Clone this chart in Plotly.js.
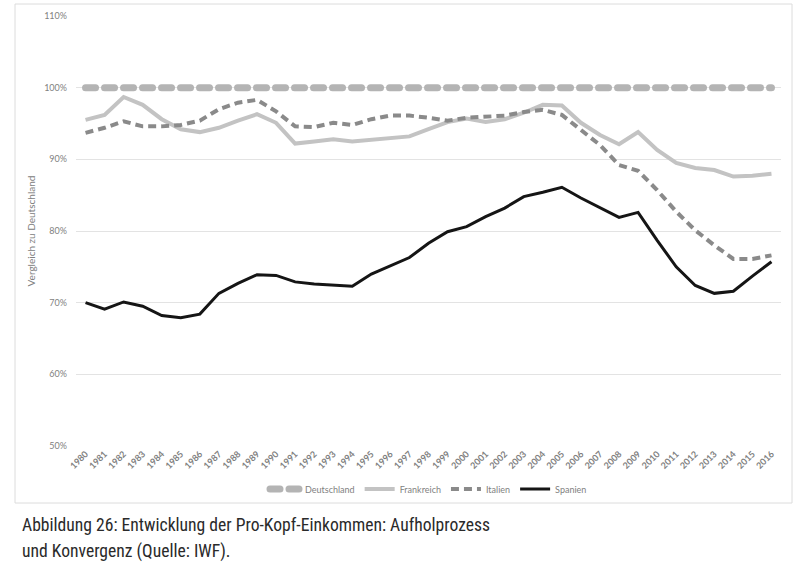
<!DOCTYPE html>
<html>
<head>
<meta charset="utf-8">
<script src="https://cdn.plot.ly/plotly-3.0.1.min.js"></script>
<style>
  html, body { margin: 0; padding: 0; background: #ffffff; }
  #chart { width: 800px; height: 577px; }
</style>
</head>
<body>
<div id="chart"></div>
<script>
// ---- Data ----
const years = ['1980','1981','1982','1983','1984','1985','1986','1987','1988','1989',
               '1990','1991','1992','1993','1994','1995','1996','1997','1998','1999',
               '2000','2001','2002','2003','2004','2005','2006','2007','2008','2009',
               '2010','2011','2012','2013','2014','2015','2016'];

const deutschland = [100,100,100,100,100,100,100,100,100,100,
                     100,100,100,100,100,100,100,100,100,100,
                     100,100,100,100,100,100,100,100,100,100,
                     100,100,100,100,100,100,100];

const frankreich = [95.5,96.2,98.7,97.6,95.6,94.2,93.8,94.4,95.4,96.3,
                    95.1,92.2,92.5,92.8,92.5,92.7,93.0,93.2,94.2,95.2,
                    95.7,95.2,95.6,96.5,97.6,97.5,95.1,93.4,92.1,93.8,
                    91.3,89.5,88.8,88.5,87.6,87.7,88.0];

const italien = [93.7,94.4,95.3,94.6,94.6,94.8,95.4,97.0,97.9,98.3,
                 96.7,94.6,94.5,95.1,94.8,95.6,96.1,96.1,95.8,95.4,
                 95.8,95.9,96.1,96.6,96.9,96.2,94.1,92.0,89.2,88.4,
                 85.7,82.7,80.1,78.0,76.1,76.1,76.6];

const spanien = [70.0,69.1,70.1,69.5,68.2,67.9,68.4,71.3,72.7,73.9,
                 73.8,72.9,72.6,72.5,72.3,74.0,75.1,76.3,78.3,79.9,
                 80.6,82.0,83.2,84.8,85.4,86.1,84.6,83.2,81.9,82.6,
                 78.7,75.0,72.4,71.3,71.6,73.7,75.7];

const seriesNames = ['Deutschland','Frankreich','Italien','Spanien'];
const yTickVals = [50,60,70,80,90,100,110];
const yTickText = ['50%','60%','70%','80%','90%','100%','110%'];
const yTitle = 'Vergleich zu Deutschland';
const caption1 = 'Abbildung 26: Entwicklung der Pro-Kopf-Einkommen: Aufholprozess';
const caption2 = 'und Konvergenz (Quelle: IWF).';

// ---- Layout geometry (pixels) ----
const W = 800, H = 577;
const plotL = 76, plotR = 781, plotT = 16, plotB = 446;
const pw = plotR - plotL, ph = plotB - plotT;
const px = x => (x - plotL) / pw;
const py = y => (plotB - y) / ph;

const tickFont = { family: 'Lato, "Open Sans", sans-serif', size: 9, color: '#7f7f7f' };
const capFont = { family: '"Liberation Sans Narrow", "Roboto Condensed", "DejaVu Sans Condensed", sans-serif', size: 17.6, color: '#2a2a2a' };

const traces = [
  { x: years, y: deutschland, name: seriesNames[0], type: 'scatter', mode: 'lines',
    line: { color: '#b4b4b4', width: 7, dash: '10px,9px' } },
  { x: years, y: frankreich, name: seriesNames[1], type: 'scatter', mode: 'lines',
    line: { color: '#c3c3c3', width: 4 } },
  { x: years, y: italien, name: seriesNames[2], type: 'scatter', mode: 'lines',
    line: { color: '#8a8a8a', width: 4, dash: '8px,5px' } },
  { x: years, y: spanien, name: seriesNames[3], type: 'scatter', mode: 'lines',
    line: { color: '#151515', width: 3 } }
];

const layout = {
  width: W, height: H,
  margin: { l: plotL, r: W - plotR, t: plotT, b: H - plotB, pad: 0 },
  paper_bgcolor: '#ffffff',
  plot_bgcolor: '#ffffff',
  showlegend: true,
  legend: {
    orientation: 'h', x: 0.5, xanchor: 'center', y: py(489), yanchor: 'middle',
    font: { family: 'Lato, "Open Sans", sans-serif', size: 9, color: '#7f7f7f' },
    itemwidth: 30, tracegroupgap: 0, bgcolor: 'rgba(0,0,0,0)'
  },
  xaxis: {
    type: 'category', range: [-0.5, 36.5],
    tickangle: -45, tickfont: Object.assign({}, tickFont, { weight: 'bold' }),
    showgrid: false, zeroline: false, showline: false, ticks: '', fixedrange: true
  },
  yaxis: {
    range: [50, 110], tickmode: 'array', tickvals: yTickVals, ticktext: yTickText,
    tickfont: tickFont, showgrid: true, gridcolor: '#e3e3e3', gridwidth: 1,
    zeroline: false, showline: false, ticks: '', ticklabelstandoff: 8,
    title: { text: yTitle, font: { family: 'Lato, "Open Sans", sans-serif', size: 10, color: '#808080' }, standoff: 6 },
    fixedrange: true
  },
  shapes: [
    { type: 'rect', xref: 'paper', yref: 'paper',
      x0: px(15), x1: px(792), y0: py(503), y1: py(4),
      line: { color: '#dcdcdc', width: 1 }, fillcolor: 'rgba(0,0,0,0)', layer: 'below' }
  ],
  annotations: [
    { text: caption1, xref: 'paper', yref: 'paper', x: px(20), y: py(525),
      xanchor: 'left', yanchor: 'middle', showarrow: false, font: capFont },
    { text: caption2, xref: 'paper', yref: 'paper', x: px(20), y: py(551),
      xanchor: 'left', yanchor: 'middle', showarrow: false, font: capFont }
  ]
};

const gd = document.getElementById('chart');
function roundCaps() {
  gd.querySelectorAll('.scatterlayer .trace:first-child path.js-line').forEach(p => {
    p.style.strokeLinecap = 'round';
  });
  const leg = gd.querySelectorAll('.legend .traces');
  if (leg.length) {
    leg[0].querySelectorAll('path.js-line').forEach(p => { p.style.strokeLinecap = 'round'; });
  }
}
Plotly.newPlot(gd, traces, layout, { displayModeBar: false, staticPlot: true }).then(() => {
  roundCaps();
  gd.on && gd.on('plotly_afterplot', roundCaps);
});
</script>
</body>
</html>
